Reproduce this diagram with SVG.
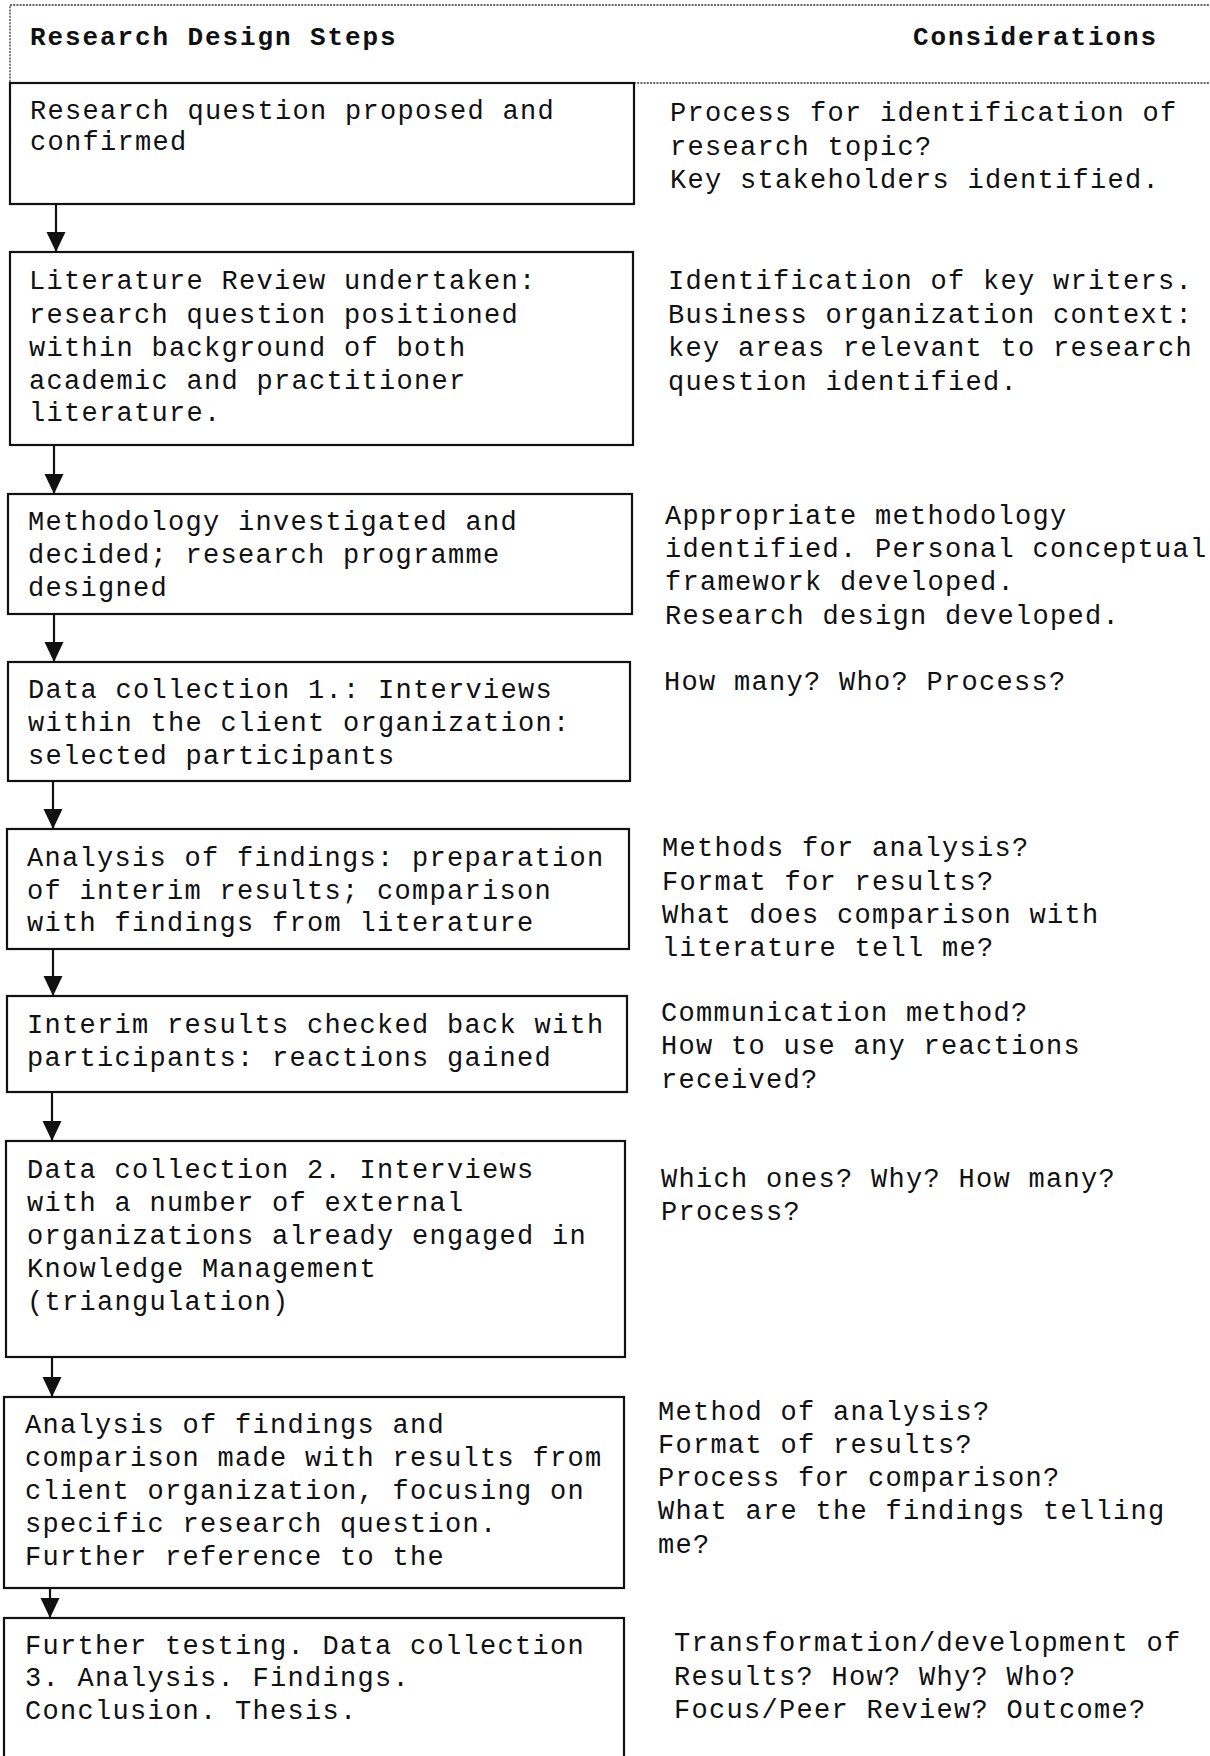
<svg xmlns="http://www.w3.org/2000/svg" width="1210" height="1756" viewBox="0 0 1210 1756">
  <style>
    .box { fill: #ffffff; stroke: #111111; stroke-width: 2.2; }
    .hdr { fill: none; stroke: #333333; stroke-width: 1.3; stroke-dasharray: 2 1.2; }
    .txt { font-family: "Liberation Mono", "Courier New", monospace; font-size: 27px; letter-spacing: 1.3px; fill: #111111; }
    .head { font-family: "Liberation Mono", "Courier New", monospace; font-size: 26px; font-weight: bold; letter-spacing: 1.9px; fill: #111111; }
    .edge { stroke: #111111; stroke-width: 2.2; fill: none; }
  </style>
  <defs>
    <marker id="head" markerUnits="userSpaceOnUse" markerWidth="20" markerHeight="20" refX="20" refY="10" orient="auto" viewBox="0 0 20 20">
      <path d="M0,0.5 L20,10 L0,19.5 Z" fill="#111111"/>
    </marker>
  </defs>
  <rect width="1210" height="1756" fill="#ffffff"/>

  <!-- column headings -->
  <g id="header">
    <path class="hdr" d="M1212,5 L10,5 L10,83 L1212,83"/>
    <text class="head" x="30" y="45">Research Design Steps</text>
    <text class="head" x="913" y="45">Considerations</text>
  </g>

  <!-- flow connectors -->
  <g id="connectors">
    <line class="edge" x1="56" y1="204" x2="56" y2="252" marker-end="url(#head)"/>
    <line class="edge" x1="54" y1="445" x2="54" y2="494" marker-end="url(#head)"/>
    <line class="edge" x1="54" y1="614" x2="54" y2="662" marker-end="url(#head)"/>
    <line class="edge" x1="53" y1="781" x2="53" y2="829" marker-end="url(#head)"/>
    <line class="edge" x1="53" y1="949" x2="53" y2="996" marker-end="url(#head)"/>
    <line class="edge" x1="52" y1="1092" x2="52" y2="1141" marker-end="url(#head)"/>
    <line class="edge" x1="52" y1="1357" x2="52" y2="1397" marker-end="url(#head)"/>
    <line class="edge" x1="50" y1="1572" x2="50" y2="1618" marker-end="url(#head)"/>
  </g>

  <!-- step 1 -->
  <g id="step1">
    <rect class="box" x="10" y="83" width="624" height="121"/>
    <text class="txt" x="30" y="119">Research question proposed and</text>
    <text class="txt" x="30" y="150">confirmed</text>
  </g>
  <g id="note1">
    <text class="txt" x="670" y="121">Process for identification of</text>
    <text class="txt" x="670" y="155">research topic?</text>
    <text class="txt" x="670" y="188">Key stakeholders identified.</text>
  </g>

  <!-- step 2 -->
  <g id="step2">
    <rect class="box" x="10" y="252" width="623" height="193"/>
    <text class="txt" x="29" y="289">Literature Review undertaken:</text>
    <text class="txt" x="29" y="323">research question positioned</text>
    <text class="txt" x="29" y="356">within background of both</text>
    <text class="txt" x="29" y="389">academic and practitioner</text>
    <text class="txt" x="29" y="421">literature.</text>
  </g>
  <g id="note2">
    <text class="txt" x="668" y="289">Identification of key writers.</text>
    <text class="txt" x="668" y="323">Business organization context:</text>
    <text class="txt" x="668" y="356">key areas relevant to research</text>
    <text class="txt" x="668" y="390">question identified.</text>
  </g>

  <!-- step 3 -->
  <g id="step3">
    <rect class="box" x="8" y="494" width="624" height="120"/>
    <text class="txt" x="28" y="530">Methodology investigated and</text>
    <text class="txt" x="28" y="563">decided; research programme</text>
    <text class="txt" x="28" y="596">designed</text>
  </g>
  <g id="note3">
    <text class="txt" x="665" y="524">Appropriate methodology</text>
    <text class="txt" x="665" y="557">identified. Personal conceptual</text>
    <text class="txt" x="665" y="590">framework developed.</text>
    <text class="txt" x="665" y="624">Research design developed.</text>
  </g>

  <!-- step 4 -->
  <g id="step4">
    <rect class="box" x="8" y="662" width="622" height="119"/>
    <text class="txt" x="28" y="698">Data collection 1.: Interviews</text>
    <text class="txt" x="28" y="731">within the client organization:</text>
    <text class="txt" x="28" y="764">selected participants</text>
  </g>
  <g id="note4">
    <text class="txt" x="664" y="690">How many? Who? Process?</text>
  </g>

  <!-- step 5 -->
  <g id="step5">
    <rect class="box" x="7" y="829" width="622" height="120"/>
    <text class="txt" x="27" y="866">Analysis of findings: preparation</text>
    <text class="txt" x="27" y="899">of interim results; comparison</text>
    <text class="txt" x="27" y="931">with findings from literature</text>
  </g>
  <g id="note5">
    <text class="txt" x="662" y="856">Methods for analysis?</text>
    <text class="txt" x="662" y="890">Format for results?</text>
    <text class="txt" x="662" y="923">What does comparison with</text>
    <text class="txt" x="662" y="956">literature tell me?</text>
  </g>

  <!-- step 6 -->
  <g id="step6">
    <rect class="box" x="7" y="996" width="620" height="96"/>
    <text class="txt" x="27" y="1033">Interim results checked back with</text>
    <text class="txt" x="27" y="1066">participants: reactions gained</text>
  </g>
  <g id="note6">
    <text class="txt" x="661" y="1021">Communication method?</text>
    <text class="txt" x="661" y="1054">How to use any reactions</text>
    <text class="txt" x="661" y="1088">received?</text>
  </g>

  <!-- step 7 -->
  <g id="step7">
    <rect class="box" x="6" y="1141" width="619" height="216"/>
    <text class="txt" x="27" y="1178">Data collection 2. Interviews</text>
    <text class="txt" x="27" y="1211">with a number of external</text>
    <text class="txt" x="27" y="1244">organizations already engaged in</text>
    <text class="txt" x="27" y="1277">Knowledge Management</text>
    <text class="txt" x="27" y="1310">(triangulation)</text>
  </g>
  <g id="note7">
    <text class="txt" x="661" y="1187">Which ones? Why? How many?</text>
    <text class="txt" x="661" y="1220">Process?</text>
  </g>

  <!-- step 8 -->
  <g id="step8">
    <rect class="box" x="4" y="1397" width="620" height="191"/>
    <text class="txt" x="25" y="1433">Analysis of findings and</text>
    <text class="txt" x="25" y="1466">comparison made with results from</text>
    <text class="txt" x="25" y="1499">client organization, focusing on</text>
    <text class="txt" x="25" y="1532">specific research question.</text>
    <text class="txt" x="25" y="1565">Further reference to the</text>
  </g>
  <g id="note8">
    <text class="txt" x="658" y="1420">Method of analysis?</text>
    <text class="txt" x="658" y="1453">Format of results?</text>
    <text class="txt" x="658" y="1486">Process for comparison?</text>
    <text class="txt" x="658" y="1519">What are the findings telling</text>
    <text class="txt" x="658" y="1553">me?</text>
  </g>

  <!-- step 9 -->
  <g id="step9">
    <rect class="box" x="4" y="1618" width="620" height="160"/>
    <text class="txt" x="25" y="1654">Further testing. Data collection</text>
    <text class="txt" x="25" y="1686">3. Analysis. Findings.</text>
    <text class="txt" x="25" y="1719">Conclusion. Thesis.</text>
  </g>
  <g id="note9">
    <text class="txt" x="674" y="1651">Transformation/development of</text>
    <text class="txt" x="674" y="1685">Results? How? Why? Who?</text>
    <text class="txt" x="674" y="1718">Focus/Peer Review? Outcome?</text>
  </g>
</svg>
